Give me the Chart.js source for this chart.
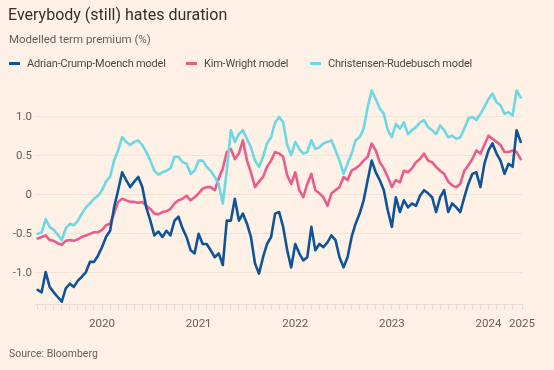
<!DOCTYPE html>
<html>
<head>
<meta charset="utf-8">
<script src="https://cdn.jsdelivr.net/npm/chart.js@4.4.1/dist/chart.umd.min.js"></script>
<style>
  html,body{margin:0;padding:0;background:#fff1e5;}
  #wrap{position:relative;width:554px;height:370px;background:#fff1e5;overflow:hidden;font-family:Roboto,"Open Sans",sans-serif;}
  #c{position:absolute;left:0;top:0;}
  .t{position:absolute;white-space:nowrap;}
  #title{left:8px;top:5px;font-size:16px;color:#33302e;}
  #sub{left:9px;top:32px;font-size:11.5px;color:#66605c;}
  #legend{left:9px;top:55px;font-size:11px;letter-spacing:-0.2px;color:#4d4845;}
  .li{position:absolute;top:0;white-space:nowrap;line-height:17px;}
  .sw{position:absolute;top:7px;width:11px;height:2.5px;}
  #src{left:9px;top:347px;font-size:10.5px;color:#66605c;}
</style>
</head>
<body>
<div id="wrap">
  <canvas id="c" width="554" height="370"></canvas>
  <div class="t" id="title">Everybody (still) hates duration</div>
  <div class="t" id="sub">Modelled term premium (%)</div>
  <div class="t" id="legend"></div>
  <div class="t" id="src">Source: Bloomberg</div>
</div>
<script>
// ---- data ----
const dates = [
"2019-05-01","2019-05-16","2019-06-01","2019-06-16","2019-07-01","2019-07-16","2019-08-01","2019-08-16",
"2019-09-01","2019-09-16","2019-10-01","2019-10-16","2019-11-01","2019-11-16","2019-12-01","2019-12-16",
"2020-01-01","2020-01-16","2020-02-01","2020-02-16","2020-03-01","2020-03-16","2020-04-01","2020-04-16",
"2020-05-01","2020-05-16","2020-06-01","2020-06-16","2020-07-01","2020-07-16","2020-08-01","2020-08-16",
"2020-09-01","2020-09-16","2020-10-01","2020-10-16","2020-11-01","2020-11-16","2020-12-01","2020-12-16",
"2021-01-01","2021-01-16","2021-02-01","2021-02-16","2021-03-01","2021-03-16","2021-04-01","2021-04-16",
"2021-05-01","2021-05-16","2021-06-01","2021-06-16","2021-07-01","2021-07-16","2021-08-01","2021-08-16",
"2021-09-01","2021-09-16","2021-10-01","2021-10-16","2021-11-01","2021-11-16","2021-12-01","2021-12-16",
"2022-01-01","2022-01-16","2022-02-01","2022-02-16","2022-03-01","2022-03-16","2022-04-01","2022-04-16",
"2022-05-01","2022-05-16","2022-06-01","2022-06-16","2022-07-01","2022-07-16","2022-08-01","2022-08-16",
"2022-09-01","2022-09-16","2022-10-01","2022-10-16","2022-11-01","2022-11-16","2022-12-01","2022-12-16",
"2023-01-01","2023-01-16","2023-02-01","2023-02-16","2023-03-01","2023-03-16","2023-04-01","2023-04-16",
"2023-05-01","2023-05-16","2023-06-01","2023-06-16","2023-07-01","2023-07-16","2023-08-01","2023-08-16",
"2023-09-01","2023-09-16","2023-10-01","2023-10-16","2023-11-01","2023-11-16","2023-12-01","2023-12-16",
"2024-01-01","2024-01-16","2024-02-01","2024-02-16","2024-03-01","2024-03-16","2024-04-01","2024-04-16",
"2024-05-01"
];
const acm = [
-1.22,-1.25,-0.99,-1.18,-1.25,-1.31,-1.37,-1.20,-1.14,-1.18,-1.10,-1.05,-0.99,-0.86,-0.86,-0.78,
-0.67,-0.54,-0.46,-0.16,0.06,0.29,0.19,0.10,0.17,0.23,0.10,-0.16,-0.33,-0.52,-0.47,-0.54,
-0.46,-0.52,-0.33,-0.28,-0.43,-0.54,-0.71,-0.75,-0.50,-0.63,-0.63,-0.71,-0.80,-0.75,-0.90,-0.33,
-0.33,-0.05,-0.33,-0.24,-0.37,-0.54,-0.88,-1.01,-0.80,-0.63,-0.54,-0.24,-0.22,-0.41,-0.71,-0.93,
-0.63,-0.75,-0.84,-0.80,-0.41,-0.71,-0.63,-0.67,-0.61,-0.52,-0.58,-0.80,-0.93,-0.80,-0.54,-0.37,
-0.24,-0.07,0.19,0.44,0.29,0.19,0.06,-0.20,-0.41,-0.03,-0.22,-0.07,-0.16,-0.11,-0.14,-0.01,
0.06,0.02,-0.03,-0.22,-0.03,0.06,-0.22,-0.11,-0.16,-0.22,-0.03,0.14,0.27,0.29,0.10,0.40,
0.57,0.66,0.53,0.44,0.27,0.40,0.36,0.83,0.68
];
const kimWright = [
-0.56,-0.54,-0.52,-0.58,-0.59,-0.62,-0.64,-0.59,-0.58,-0.59,-0.57,-0.54,-0.52,-0.50,-0.48,-0.48,
-0.45,-0.39,-0.37,-0.24,-0.09,-0.05,-0.07,-0.09,-0.09,-0.10,-0.09,-0.14,-0.18,-0.24,-0.25,-0.22,
-0.21,-0.18,-0.11,-0.07,-0.05,-0.01,-0.07,-0.03,0.02,0.08,0.10,0.10,0.06,0.21,0.34,0.55,
0.59,0.46,0.53,0.70,0.44,0.29,0.10,0.17,0.23,0.36,0.44,0.55,0.53,0.49,0.25,0.14,
0.29,0.06,-0.03,0.14,0.27,0.06,0.02,-0.03,-0.14,0.02,0.06,0.10,0.23,0.19,0.31,0.34,
0.38,0.44,0.49,0.66,0.57,0.42,0.34,0.23,0.10,0.19,0.16,0.31,0.29,0.34,0.42,0.46,
0.53,0.44,0.42,0.36,0.31,0.27,0.17,0.12,0.10,0.14,0.31,0.38,0.46,0.57,0.53,0.64,
0.76,0.72,0.68,0.64,0.55,0.55,0.57,0.55,0.46
];
const christensenRudebusch = [
-0.50,-0.48,-0.31,-0.41,-0.45,-0.51,-0.58,-0.43,-0.37,-0.39,-0.33,-0.24,-0.16,-0.11,-0.05,-0.01,
0.06,0.17,0.23,0.44,0.57,0.74,0.68,0.64,0.68,0.70,0.64,0.55,0.44,0.31,0.26,0.29,
0.31,0.34,0.49,0.49,0.42,0.40,0.27,0.31,0.44,0.44,0.36,0.31,0.23,0.14,-0.11,0.31,
0.83,0.68,0.78,0.83,0.72,0.61,0.44,0.36,0.49,0.66,0.74,0.93,1.00,0.93,0.64,0.51,
0.68,0.59,0.53,0.55,0.70,0.59,0.61,0.66,0.68,0.70,0.57,0.44,0.27,0.40,0.53,0.70,
0.74,0.85,1.13,1.34,1.23,1.11,1.04,0.83,0.74,0.91,0.85,0.93,0.78,0.83,0.87,0.93,
0.96,0.87,0.83,0.78,0.89,0.83,0.74,0.76,0.72,0.74,0.85,0.98,1.00,0.96,1.04,1.13,
1.23,1.30,1.19,1.15,1.04,1.06,1.02,1.34,1.25
];
const seriesNames = ["Adrian-Crump-Moench model","Kim-Wright model","Christensen-Rudebusch model"];
const seriesColors = ["#0f5499","#e95d8c","#6cd8e6"];
const yTickValues = [-1,-0.5,0,0.5,1];
const yTickLabels = ["-1.0","-0.5","0","0.5","1.0"];
const xTickYears = [2020,2021,2022,2023,2024];
const xTickLabels = ["2020","2021","2022","2023","2024","2025"];

// ---- helpers ----
function toYear(s){const p=s.split('-').map(Number);return p[0]+(p[1]-1)/12+(p[2]-1)/365;}
function pts(vals){return vals.map((v,i)=>({x:toYear(dates[i]),y:v}));}

// legend (HTML)
const leg=document.getElementById('legend');
const legX=[0,177,301];
seriesNames.forEach((n,i)=>{
  const d=document.createElement('div');d.className='li';d.style.left=legX[i]+'px';
  d.innerHTML='<span class="sw" style="left:0;background:'+seriesColors[i]+'"></span><span style="margin-left:18px">'+n+'</span>';
  leg.appendChild(d);
});

const X_MIN=2019.306, X_MAX=2024.347;
const faint='#eadcd0';
new Chart(document.getElementById('c'),{
  type:'line',
  data:{datasets:[
    {label:seriesNames[0],data:pts(acm),borderColor:seriesColors[0],order:0},
    {label:seriesNames[1],data:pts(kimWright),borderColor:seriesColors[1],order:2},
    {label:seriesNames[2],data:pts(christensenRudebusch),borderColor:seriesColors[2],order:1}
  ]},
  options:{
    responsive:false,animation:false,
    layout:{padding:{left:0,right:32,top:78,bottom:36}},
    elements:{point:{radius:0},line:{borderWidth:2.6,tension:0,borderJoinStyle:'round',borderCapStyle:'round'}},
    plugins:{legend:{display:false},tooltip:{enabled:false},title:{display:false}},
    scales:{
      x:{type:'linear',min:X_MIN,max:X_MAX,
        afterFit:s=>{s.height=30;},
        afterBuildTicks:s=>{
          const t=[];
          for(let m=Math.ceil(X_MIN*12);m<=Math.floor(X_MAX*12);m++){const v=m/12;if(X_MAX-v>0.03)t.push({value:v});}
          t.push({value:X_MAX});
          s.ticks=t;
        },
        grid:{display:true,drawOnChartArea:false,drawTicks:true,tickLength:6,color:faint,lineWidth:1},
        border:{display:true,color:faint},
        ticks:{autoSkip:false,maxRotation:0,padding:7,color:'#66605c',font:{family:'Roboto',size:11.5},
          callback:function(v){
            if(Math.abs(v-X_MAX)<1e-6) return xTickLabels[xTickLabels.length-1];
            for(let k=0;k<xTickYears.length;k++){if(Math.abs(v-xTickYears[k])<1e-6) return xTickLabels[k];}
            return '';
          }}
      },
      y:{min:-1.4,max:1.5,
        afterFit:s=>{s.width=35;},
        afterBuildTicks:s=>{s.ticks=yTickValues.map(v=>({value:v}));},
        grid:{color:'#f3e3d6',drawTicks:false,lineWidth:1},
        border:{display:false},
        ticks:{padding:3,color:'#66605c',font:{family:'Roboto',size:11.5},
          callback:function(v){const k=yTickValues.indexOf(v);return k>=0?yTickLabels[k]:'';}}
      }
    }
  }
});
</script>
</body>
</html>
